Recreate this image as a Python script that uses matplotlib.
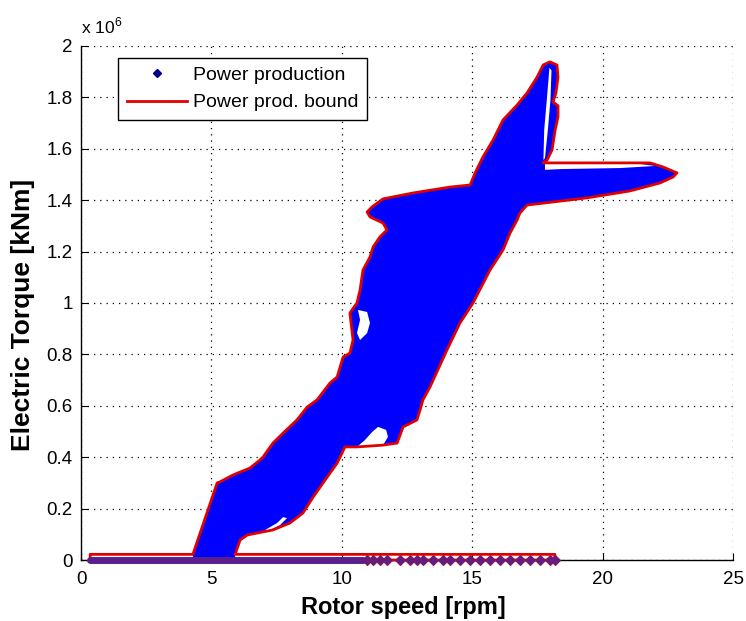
import matplotlib
matplotlib.use("Agg")
import matplotlib.pyplot as plt
from matplotlib.lines import Line2D
from matplotlib.ticker import FuncFormatter

plt.rcParams["font.family"] = ["Liberation Sans", "DejaVu Sans"]
plt.rcParams["mathtext.fontset"] = "custom"
plt.rcParams["mathtext.rm"] = "Liberation Sans"

# Operating envelope of the power-production region (rotor speed [rpm], torque [x 1e6])
blob_speed = [4.29, 5.22, 5.33, 5.83, 6.48, 6.86, 6.98, 7.36, 7.75, 8.28, 8.67, 9.05,
              9.55, 9.82, 10.05, 10.31, 10.43, 10.31, 10.58, 10.70, 10.81, 11.08, 11.20,
              11.46, 11.73, 11.58, 11.08, 10.97, 11.16, 11.58, 12.73, 14.15, 14.92, 15.11,
              15.41, 15.80, 16.18, 16.72, 17.10, 17.49, 17.72, 17.98, 18.25, 18.29, 18.21,
              18.10, 18.29, 18.29, 18.18, 18.06, 17.87, 17.72, 21.82, 22.32, 22.85, 22.70,
              22.20, 21.05, 19.40, 18.10, 17.10, 16.83, 16.72, 16.45, 16.18, 15.68, 15.03,
              14.53, 14.03, 13.38, 13.11, 13.00, 12.88, 12.35, 12.12, 11.58, 10.58, 10.12,
              9.82, 9.28, 8.90, 8.51, 8.01, 7.36, 6.75, 6.37, 6.10, 5.91]
blob_torque = [0.022, 0.300, 0.304, 0.331, 0.358, 0.389, 0.401, 0.455, 0.494, 0.545, 0.595,
               0.623, 0.689, 0.712, 0.790, 0.805, 0.856, 0.961, 1.000, 1.051, 1.128, 1.179,
               1.218, 1.257, 1.284, 1.311, 1.335, 1.354, 1.374, 1.405, 1.428, 1.451, 1.459,
               1.506, 1.568, 1.634, 1.712, 1.770, 1.817, 1.879, 1.926, 1.938, 1.926, 1.879,
               1.817, 1.782, 1.767, 1.724, 1.673, 1.595, 1.556, 1.545, 1.545, 1.529, 1.506,
               1.490, 1.467, 1.436, 1.409, 1.393, 1.381, 1.350, 1.323, 1.272, 1.206, 1.128,
               1.000, 0.922, 0.817, 0.673, 0.623, 0.584, 0.545, 0.518, 0.455, 0.447, 0.440,
               0.440, 0.377, 0.300, 0.245, 0.183, 0.144, 0.117, 0.105, 0.097, 0.078, 0.022]

# Zero-torque band (idle / start-up points)
band_speed = [0.35, 18.17]
band_torque_top = 0.022
idle_dense_speed = [0.35, 10.80]          # continuous run of idle points
idle_speed = [10.95, 11.21, 11.46, 11.72, 12.23, 12.61, 12.87, 13.13, 13.51, 13.89,
              14.15, 14.53, 14.92, 15.30, 15.68, 16.07, 16.45, 16.83, 17.22, 17.60,
              17.98, 18.17]

# Areas inside the envelope without operating points
gap_notch_speed = [10.58, 10.89, 11.16, 11.39, 11.70, 11.77, 11.58]
gap_notch_torque = [0.440, 0.467, 0.498, 0.518, 0.506, 0.479, 0.447]
gap_left_speed = [10.62, 10.97, 11.08, 10.97, 10.70, 10.58, 10.70]
gap_left_torque = [0.973, 0.965, 0.922, 0.883, 0.856, 0.883, 0.934]
gap_low_speed = [7.06, 7.52, 7.75, 7.90, 7.63, 7.25]
gap_low_torque = [0.117, 0.144, 0.167, 0.163, 0.136, 0.117]
gap_spike_speed = [17.96, 18.04, 18.00, 17.90, 17.79, 17.73, 17.76, 17.86]
gap_spike_torque = [1.915, 1.905, 1.790, 1.673, 1.564, 1.556, 1.673, 1.790]
gap_flap_speed = [17.79, 21.43, 22.01, 20.67, 18.37, 17.79]
gap_flap_torque = [1.541, 1.541, 1.533, 1.525, 1.521, 1.518]

x_ticks = [0, 5, 10, 15, 20, 25]
y_ticks = [0, 0.2, 0.4, 0.6, 0.8, 1.0, 1.2, 1.4, 1.6, 1.8, 2.0]

fig = plt.figure(figsize=(7.46, 6.21), dpi=100)
ax = fig.add_axes([0.1086, 0.0982, 0.8740, 0.8278])

# Filled power-production cloud
fill_x = [blob_speed[0], *blob_speed, blob_speed[-1]]
fill_y = [0.0, *blob_torque, 0.0]
ax.fill(fill_x, fill_y, color="#0000ff", lw=0, zorder=2)
for gx, gy in [(gap_notch_speed, gap_notch_torque), (gap_left_speed, gap_left_torque),
               (gap_low_speed, gap_low_torque), (gap_spike_speed, gap_spike_torque),
               (gap_flap_speed, gap_flap_torque)]:
    ax.fill(gx, gy, color="white", lw=0, zorder=2.5)

# Bound: zero-torque band joined to the envelope
bound_x = [band_speed[0], band_speed[0], *blob_speed, band_speed[1], band_speed[1], band_speed[0]]
bound_y = [0.0, band_torque_top, *blob_torque, band_torque_top, 0.0, 0.0]
ax.plot(bound_x, bound_y, color="#e00000", lw=2.0, zorder=4, clip_on=False)

# Idle points on the zero-torque axis
idle_color = "#5a1f8c"
ax.plot(idle_dense_speed, [0.0, 0.0], color=idle_color, lw=5.0,
        solid_capstyle="round", zorder=5, clip_on=False)
ax.plot(idle_speed, [0.0] * len(idle_speed), ls="none", marker="D", ms=5,
        mfc=idle_color, mec="#8a1550", mew=0.8, zorder=5, clip_on=False)

ax.set_xlim(0, 25)
ax.set_ylim(0, 2)
ax.set_xticks(x_ticks)
ax.set_yticks(y_ticks)
ax.yaxis.set_major_formatter(FuncFormatter(lambda v, p: f"{v:g}"))
ax.tick_params(direction="in", length=5, width=0.8, labelsize=13.5,
               top=False, right=False)
ax.tick_params(axis="x", pad=8)
ax.tick_params(axis="y", pad=6)
for s in ["top", "right"]:
    ax.spines[s].set_visible(False)
for s in ["left", "bottom"]:
    ax.spines[s].set_linewidth(1.0)

ax.grid(True, color="black", linestyle=(0, (1, 4)), linewidth=0.9)
ax.set_axisbelow(True)

ax.set_xlabel("Rotor speed [rpm]", fontsize=17, fontweight="bold")
ax.set_ylabel("Electric Torque [kNm]", fontsize=19, fontweight="bold")
ax.xaxis.set_label_coords(0.494, -0.07)
ax.yaxis.set_label_coords(-0.07, 0.477)

ax.text(0.0, 1.018, r"x 10$^{6}$", transform=ax.transAxes, fontsize=12.5,
        ha="left", va="bottom")

handles = [Line2D([], [], ls="none", marker="D", ms=4, color="#00008b"),
           Line2D([], [], color="#e00000", lw=2.0)]
leg = ax.legend(handles, ["Power production", "Power prod. bound"],
                loc="upper left", bbox_to_anchor=(0.057, 0.977), borderaxespad=0,
                fontsize=14, frameon=True, fancybox=False, framealpha=1,
                edgecolor="black", handlelength=3.1, handletextpad=0.3,
                labelspacing=0.5, borderpad=0.45)
leg.get_frame().set_linewidth(1.0)

fig.savefig("out.png", dpi=100, facecolor="white")
